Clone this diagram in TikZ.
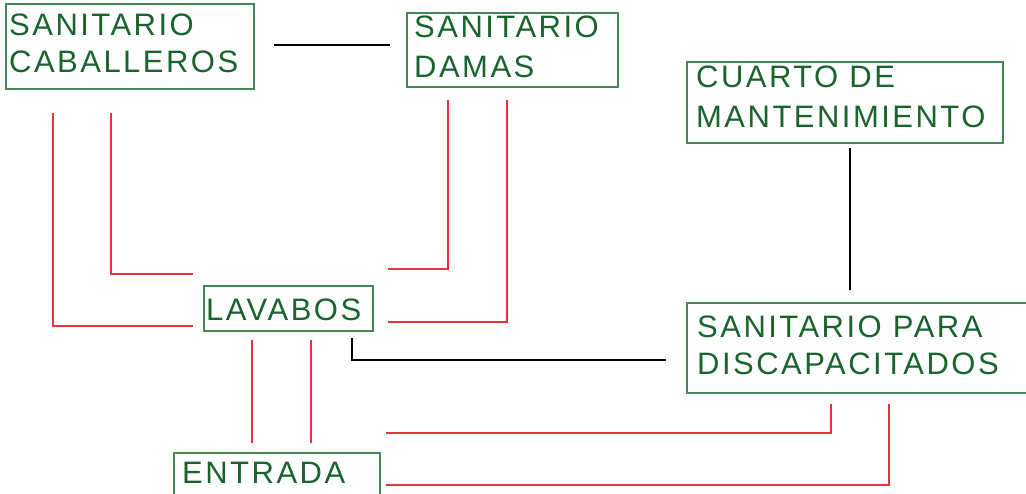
\documentclass[tikz,border=0pt]{standalone}
\usepackage{fontspec}
\newfontfamily\labfont[LetterSpace=8]{Liberation Sans}
\usetikzlibrary{calc}
\definecolor{txtgreen}{RGB}{25,100,45}
\definecolor{boxgreen}{RGB}{70,135,90}
\definecolor{linkred}{RGB}{235,50,60}
\begin{document}
\begin{tikzpicture}[x=1pt,y=-1pt,
  roombox/.style={draw=boxgreen,line width=1.5pt,rectangle,anchor=north west,inner sep=0pt},
  roomtxt/.style={anchor=base west,inner sep=0pt,text=txtgreen,font=\labfont\fontsize{31}{37}\selectfont},
  redlink/.style={draw=linkred,line width=1.3pt},
  blacklink/.style={draw=black,line width=1.3pt}]
\useasboundingbox (0,0) rectangle (1026,493);
% boxes
\node[roombox,minimum width=248pt,minimum height=85pt] (cab) at (5,3) {};
\node[roombox,minimum width=211pt,minimum height=74pt] (dam) at (406,12) {};
\node[roombox,minimum width=316pt,minimum height=81pt] (cua) at (686,61) {};
\node[roombox,minimum width=350pt,minimum height=90pt] (dis) at (686,302) {};
\node[roombox,minimum width=169pt,minimum height=45pt] (lav) at (203,285) {};
\node[roombox,minimum width=206pt,minimum height=60pt] (ent) at (173,452) {};
% texts
\node[roomtxt] (cab1) at (9,35) {SANITARIO};
\node[roomtxt] (cab2) at (9,72) {CABALLEROS};
\node[roomtxt] (dam1) at (414,37) {SANITARIO};
\node[roomtxt] (dam2) at (414,77) {DAMAS};
\node[roomtxt] (cua1) at (696,87) {CUARTO DE};
\node[roomtxt] (cua2) at (696,127) {MANTENIMIENTO};
\node[roomtxt] (dis1) at (697,337) {SANITARIO PARA};
\node[roomtxt] (dis2) at (697,374) {DISCAPACITADOS};
\node[roomtxt] (lav1) at (206,320) {LAVABOS};
\node[roomtxt] (ent1) at (182,483) {ENTRADA};
% connector end points
\coordinate (cabR) at (274,45);
\coordinate (damL) at (390,45);
\coordinate (cuaB) at (850,148);
\coordinate (disT) at (850,290);
\coordinate (c1a) at (53,113);
\coordinate (c1b) at (193,326);
\coordinate (c2a) at (111,113);
\coordinate (c2b) at (193,274);
\coordinate (d1a) at (448,100);
\coordinate (d1b) at (388,269);
\coordinate (d2a) at (507,100);
\coordinate (d2b) at (388,322);
\coordinate (l1a) at (252,340);
\coordinate (l1b) at (252,443);
\coordinate (l2a) at (311,340);
\coordinate (l2b) at (311,443);
\coordinate (s1a) at (831,404);
\coordinate (s1b) at (386,433);
\coordinate (s2a) at (889,404);
\coordinate (s2b) at (386,485);
\coordinate (lbA) at (352,338);
\coordinate (lbB) at (666,360);
% connectors
\draw[blacklink] (cabR) -- (damL);
\draw[blacklink] (cuaB) -- (disT);
\draw[blacklink] (lbA) |- (lbB);
\draw[redlink] (c1a) |- (c1b);
\draw[redlink] (c2a) |- (c2b);
\draw[redlink] (d1a) |- (d1b);
\draw[redlink] (d2a) |- (d2b);
\draw[redlink] (l1a) -- (l1b);
\draw[redlink] (l2a) -- (l2b);
\draw[redlink] (s1a) |- (s1b);
\draw[redlink] (s2a) |- (s2b);
\end{tikzpicture}
\end{document}
